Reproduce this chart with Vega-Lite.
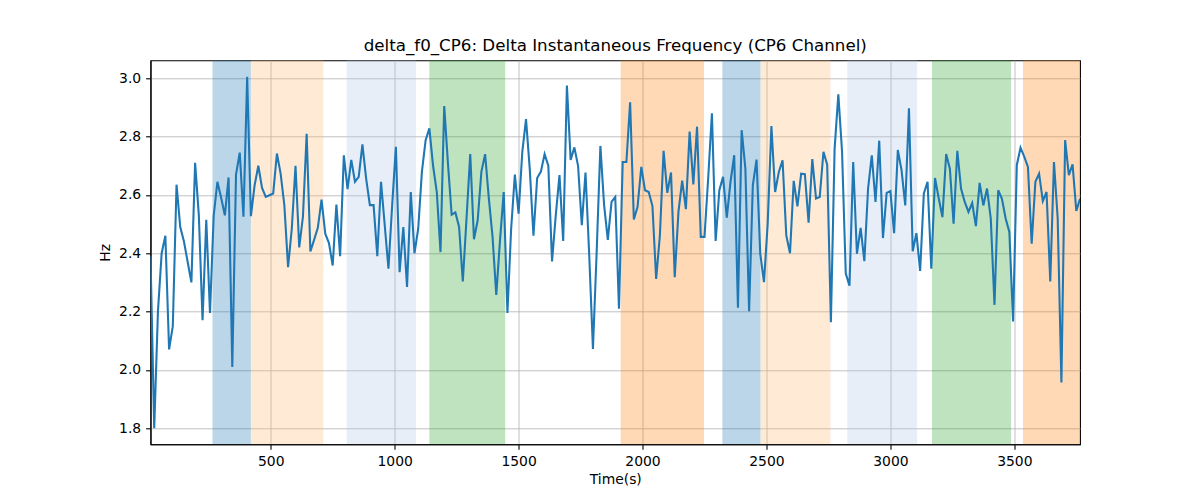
{
  "$schema": "https://vega.github.io/schema/vega-lite/v6.json",
  "width": 929.5,
  "height": 384,
  "autosize": {"type": "none"},
  "padding": {"left": 150.5, "top": 60.3, "right": 120, "bottom": 55.7},
  "background": "white",
  "config": {
    "font": "DejaVu Sans",
    "view": {"stroke": "black", "strokeWidth": 1.1},
    "axis": {
      "domainColor": "black",
      "domainWidth": 1.1,
      "tickColor": "black",
      "tickSize": 4.9,
      "tickWidth": 1.1,
      "labelFontSize": 13.9,
      "labelColor": "black",
      "labelFont": "DejaVu Sans",
      "labelPadding": 4.9,
      "gridColor": "#b0b0b0",
      "gridWidth": 0.8,
      "gridOpacity": 1,
      "titleFontSize": 13.9,
      "titleFontWeight": "normal",
      "titleColor": "black",
      "titleFont": "DejaVu Sans"
    }
  },
  "title": {
    "text": "delta_f0_CP6: Delta Instantaneous Frequency (CP6 Channel)",
    "fontSize": 16.7,
    "fontWeight": "normal",
    "font": "DejaVu Sans",
    "color": "black",
    "anchor": "middle",
    "baseline": "alphabetic",
    "offset": -7.7
  },
  "layer": [
    {
      "data": {
        "values": [
          {"start": 265, "end": 420, "segment": "A"},
          {"start": 420, "end": 712, "segment": "B"},
          {"start": 806, "end": 1086, "segment": "C"},
          {"start": 1140, "end": 1446, "segment": "D"},
          {"start": 1912, "end": 2248, "segment": "E"},
          {"start": 2322, "end": 2476, "segment": "A"},
          {"start": 2476, "end": 2758, "segment": "B"},
          {"start": 2826, "end": 3108, "segment": "C"},
          {"start": 3168, "end": 3487, "segment": "D"},
          {"start": 3535, "end": 3765, "segment": "E"}
        ]
      },
      "mark": {"type": "rect", "opacity": 0.3, "clip": true},
      "encoding": {
        "x": {
          "field": "start",
          "type": "quantitative",
          "scale": {"domain": [15, 3765], "nice": false, "zero": false},
          "axis": {"title": "Time(s)", "values": [500, 1000, 1500, 2000, 2500, 3000, 3500], "format": "d", "titlePadding": 4}
        },
        "x2": {"field": "end"},
        "color": {
          "field": "segment",
          "type": "nominal",
          "scale": {"domain": ["A", "B", "C", "D", "E"], "range": ["#1f77b4", "#ffbb78", "#aec7e8", "#2ca02c", "#ff7f0e"]},
          "legend": null
        }
      }
    },
    {
      "data": {
        "values": [
          {"t": 15, "v": 2.39}, {"t": 30, "v": 1.80}, {"t": 45, "v": 2.20}, {"t": 60, "v": 2.40}, {"t": 75, "v": 2.46},
          {"t": 90, "v": 2.07}, {"t": 105, "v": 2.15}, {"t": 120, "v": 2.635}, {"t": 135, "v": 2.49}, {"t": 150, "v": 2.44},
          {"t": 165, "v": 2.37}, {"t": 180, "v": 2.30}, {"t": 195, "v": 2.71}, {"t": 210, "v": 2.53}, {"t": 225, "v": 2.17},
          {"t": 240, "v": 2.515}, {"t": 255, "v": 2.195}, {"t": 270, "v": 2.53}, {"t": 285, "v": 2.645}, {"t": 300, "v": 2.59},
          {"t": 315, "v": 2.53}, {"t": 330, "v": 2.66}, {"t": 345, "v": 2.01}, {"t": 360, "v": 2.67}, {"t": 375, "v": 2.745},
          {"t": 390, "v": 2.525}, {"t": 405, "v": 3.005}, {"t": 420, "v": 2.527}, {"t": 435, "v": 2.633}, {"t": 450, "v": 2.70},
          {"t": 465, "v": 2.624}, {"t": 480, "v": 2.593}, {"t": 495, "v": 2.599}, {"t": 510, "v": 2.605}, {"t": 525, "v": 2.742},
          {"t": 540, "v": 2.673}, {"t": 555, "v": 2.565}, {"t": 570, "v": 2.352}, {"t": 585, "v": 2.484}, {"t": 600, "v": 2.70},
          {"t": 615, "v": 2.42}, {"t": 630, "v": 2.525}, {"t": 645, "v": 2.81}, {"t": 660, "v": 2.406}, {"t": 675, "v": 2.446},
          {"t": 690, "v": 2.487}, {"t": 705, "v": 2.584}, {"t": 720, "v": 2.467}, {"t": 735, "v": 2.435}, {"t": 750, "v": 2.358},
          {"t": 765, "v": 2.567}, {"t": 780, "v": 2.39}, {"t": 795, "v": 2.736}, {"t": 810, "v": 2.62}, {"t": 825, "v": 2.72},
          {"t": 840, "v": 2.645}, {"t": 855, "v": 2.662}, {"t": 870, "v": 2.773}, {"t": 885, "v": 2.656}, {"t": 900, "v": 2.565},
          {"t": 915, "v": 2.565}, {"t": 930, "v": 2.39}, {"t": 945, "v": 2.645}, {"t": 960, "v": 2.496}, {"t": 975, "v": 2.347},
          {"t": 990, "v": 2.565}, {"t": 1005, "v": 2.765}, {"t": 1020, "v": 2.335}, {"t": 1035, "v": 2.49}, {"t": 1050, "v": 2.284},
          {"t": 1065, "v": 2.61}, {"t": 1080, "v": 2.40}, {"t": 1095, "v": 2.484}, {"t": 1110, "v": 2.68}, {"t": 1125, "v": 2.788},
          {"t": 1140, "v": 2.828}, {"t": 1155, "v": 2.70}, {"t": 1170, "v": 2.61}, {"t": 1185, "v": 2.404}, {"t": 1200, "v": 2.905},
          {"t": 1215, "v": 2.708}, {"t": 1230, "v": 2.532}, {"t": 1245, "v": 2.54}, {"t": 1260, "v": 2.49}, {"t": 1275, "v": 2.303},
          {"t": 1290, "v": 2.52}, {"t": 1305, "v": 2.74}, {"t": 1320, "v": 2.448}, {"t": 1335, "v": 2.513}, {"t": 1350, "v": 2.68},
          {"t": 1365, "v": 2.74}, {"t": 1380, "v": 2.588}, {"t": 1395, "v": 2.456}, {"t": 1410, "v": 2.257}, {"t": 1425, "v": 2.444},
          {"t": 1440, "v": 2.61}, {"t": 1455, "v": 2.195}, {"t": 1470, "v": 2.484}, {"t": 1485, "v": 2.67}, {"t": 1500, "v": 2.536},
          {"t": 1515, "v": 2.748}, {"t": 1530, "v": 2.86}, {"t": 1545, "v": 2.69}, {"t": 1560, "v": 2.46}, {"t": 1575, "v": 2.658},
          {"t": 1590, "v": 2.68}, {"t": 1605, "v": 2.74}, {"t": 1620, "v": 2.70}, {"t": 1635, "v": 2.372}, {"t": 1650, "v": 2.53},
          {"t": 1665, "v": 2.668}, {"t": 1680, "v": 2.442}, {"t": 1695, "v": 2.975}, {"t": 1710, "v": 2.72}, {"t": 1725, "v": 2.763},
          {"t": 1740, "v": 2.70}, {"t": 1755, "v": 2.496}, {"t": 1770, "v": 2.677}, {"t": 1785, "v": 2.393}, {"t": 1800, "v": 2.072},
          {"t": 1815, "v": 2.404}, {"t": 1830, "v": 2.768}, {"t": 1845, "v": 2.565}, {"t": 1860, "v": 2.446}, {"t": 1875, "v": 2.576},
          {"t": 1890, "v": 2.593}, {"t": 1905, "v": 2.21}, {"t": 1920, "v": 2.713}, {"t": 1935, "v": 2.713}, {"t": 1950, "v": 2.918},
          {"t": 1965, "v": 2.516}, {"t": 1980, "v": 2.559}, {"t": 1995, "v": 2.696}, {"t": 2010, "v": 2.616}, {"t": 2025, "v": 2.61},
          {"t": 2040, "v": 2.562}, {"t": 2055, "v": 2.312}, {"t": 2070, "v": 2.46}, {"t": 2085, "v": 2.751}, {"t": 2100, "v": 2.607},
          {"t": 2115, "v": 2.677}, {"t": 2130, "v": 2.318}, {"t": 2145, "v": 2.542}, {"t": 2160, "v": 2.649}, {"t": 2175, "v": 2.551},
          {"t": 2190, "v": 2.817}, {"t": 2205, "v": 2.636}, {"t": 2220, "v": 2.834}, {"t": 2235, "v": 2.456}, {"t": 2250, "v": 2.456},
          {"t": 2265, "v": 2.658}, {"t": 2280, "v": 2.88}, {"t": 2295, "v": 2.442}, {"t": 2310, "v": 2.616}, {"t": 2325, "v": 2.662},
          {"t": 2340, "v": 2.522}, {"t": 2355, "v": 2.645}, {"t": 2370, "v": 2.736}, {"t": 2385, "v": 2.213}, {"t": 2400, "v": 2.822},
          {"t": 2415, "v": 2.69}, {"t": 2430, "v": 2.201}, {"t": 2445, "v": 2.633}, {"t": 2460, "v": 2.721}, {"t": 2475, "v": 2.398},
          {"t": 2490, "v": 2.301}, {"t": 2505, "v": 2.501}, {"t": 2520, "v": 2.836}, {"t": 2535, "v": 2.61}, {"t": 2550, "v": 2.679},
          {"t": 2565, "v": 2.719}, {"t": 2580, "v": 2.461}, {"t": 2595, "v": 2.40}, {"t": 2610, "v": 2.648}, {"t": 2625, "v": 2.561},
          {"t": 2640, "v": 2.673}, {"t": 2655, "v": 2.671}, {"t": 2670, "v": 2.505}, {"t": 2685, "v": 2.723}, {"t": 2700, "v": 2.588},
          {"t": 2715, "v": 2.593}, {"t": 2730, "v": 2.748}, {"t": 2745, "v": 2.704}, {"t": 2760, "v": 2.163}, {"t": 2775, "v": 2.759},
          {"t": 2790, "v": 2.945}, {"t": 2805, "v": 2.748}, {"t": 2820, "v": 2.33}, {"t": 2835, "v": 2.289}, {"t": 2850, "v": 2.713},
          {"t": 2865, "v": 2.398}, {"t": 2880, "v": 2.487}, {"t": 2895, "v": 2.373}, {"t": 2910, "v": 2.622}, {"t": 2925, "v": 2.736},
          {"t": 2940, "v": 2.576}, {"t": 2955, "v": 2.786}, {"t": 2970, "v": 2.452}, {"t": 2985, "v": 2.607}, {"t": 3000, "v": 2.613},
          {"t": 3015, "v": 2.469}, {"t": 3030, "v": 2.754}, {"t": 3045, "v": 2.685}, {"t": 3060, "v": 2.564}, {"t": 3075, "v": 2.897},
          {"t": 3090, "v": 2.407}, {"t": 3105, "v": 2.469}, {"t": 3120, "v": 2.339}, {"t": 3135, "v": 2.605}, {"t": 3150, "v": 2.645},
          {"t": 3165, "v": 2.347}, {"t": 3180, "v": 2.658}, {"t": 3195, "v": 2.588}, {"t": 3210, "v": 2.524}, {"t": 3225, "v": 2.74},
          {"t": 3240, "v": 2.69}, {"t": 3255, "v": 2.501}, {"t": 3270, "v": 2.751}, {"t": 3285, "v": 2.622}, {"t": 3300, "v": 2.576},
          {"t": 3315, "v": 2.542}, {"t": 3330, "v": 2.572}, {"t": 3345, "v": 2.493}, {"t": 3360, "v": 2.641}, {"t": 3375, "v": 2.564},
          {"t": 3390, "v": 2.622}, {"t": 3405, "v": 2.519}, {"t": 3420, "v": 2.223}, {"t": 3435, "v": 2.616}, {"t": 3450, "v": 2.587},
          {"t": 3465, "v": 2.519}, {"t": 3480, "v": 2.473}, {"t": 3495, "v": 2.166}, {"t": 3510, "v": 2.702}, {"t": 3525, "v": 2.762},
          {"t": 3540, "v": 2.731}, {"t": 3555, "v": 2.696}, {"t": 3570, "v": 2.433}, {"t": 3585, "v": 2.645}, {"t": 3600, "v": 2.673},
          {"t": 3615, "v": 2.579}, {"t": 3630, "v": 2.61}, {"t": 3645, "v": 2.303}, {"t": 3660, "v": 2.713}, {"t": 3675, "v": 2.519},
          {"t": 3690, "v": 1.957}, {"t": 3705, "v": 2.788}, {"t": 3720, "v": 2.668}, {"t": 3735, "v": 2.705}, {"t": 3750, "v": 2.545},
          {"t": 3765, "v": 2.587}
        ]
      },
      "mark": {"type": "line", "color": "#1f77b4", "strokeWidth": 2.08, "clip": true},
      "encoding": {
        "x": {
          "field": "t",
          "type": "quantitative",
          "scale": {"domain": [15, 3765], "nice": false, "zero": false}
        },
        "y": {
          "field": "v",
          "type": "quantitative",
          "scale": {"domain": [1.7447, 3.0617], "nice": false, "zero": false},
          "axis": {"title": "Hz", "values": [1.8, 2.0, 2.2, 2.4, 2.6, 2.8, 3.0], "format": ".1f", "titlePadding": 6}
        }
      }
    }
  ]
}
